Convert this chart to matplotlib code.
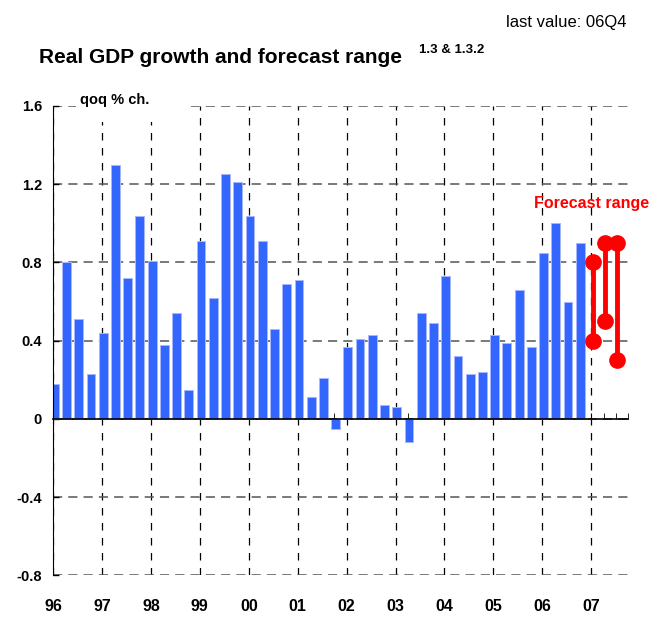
import matplotlib
matplotlib.use("Agg")
from matplotlib import pyplot as plt
from matplotlib.patches import Rectangle

plt.rcParams['font.family'] = ['Liberation Sans', 'DejaVu Sans']

# quarterly real GDP growth, qoq % ch., 96Q1 .. 06Q4
gdp = [0.18, 0.80, 0.51, 0.23,
       0.44, 1.30, 0.72, 1.04,
       0.81, 0.38, 0.54, 0.15,
       0.91, 0.62, 1.25, 1.21,
       1.04, 0.91, 0.46, 0.69,
       0.71, 0.11, 0.21, -0.05,
       0.37, 0.41, 0.43, 0.07,
       0.06, -0.12, 0.54, 0.49,
       0.73, 0.32, 0.23, 0.24,
       0.43, 0.39, 0.66, 0.37,
       0.85, 1.00, 0.60, 0.90]
years = ['96', '97', '98', '99', '00', '01', '02', '03', '04', '05', '06', '07']
# forecast range for 07Q1..07Q3
fc_low = [0.4, 0.5, 0.3]
fc_high = [0.8, 0.9, 0.9]

fig = plt.figure(figsize=(6.67, 6.22), dpi=100)
ax = fig.add_axes([0.0795, 0.0748, 0.862, 0.7548])

xq = [i + 0.1 for i in range(len(gdp))]
ax.bar(xq, gdp, width=0.72, color='#3366ff', edgecolor='#a8b8ff', linewidth=0.7, zorder=2)

xf = [len(gdp) + 0.1 + i for i in range(len(fc_low))]
for x, lo, hi in zip(xf, fc_low, fc_high):
    ax.plot([x, x], [lo, hi], color='red', lw=3.5, marker='o', ms=11, zorder=5)
ax.text(44.0, 1.10, 'Forecast range', color='red', fontsize=11.5, fontweight='bold',
        ha='center', va='center')

ax.set_xlim(0, 47)
ax.set_ylim(-0.8, 1.6)
ax.set_yticks([-0.8, -0.4, 0, 0.4, 0.8, 1.2, 1.6])
ax.set_yticklabels(['-0.8', '-0.4', '0', '0.4', '0.8', '1.2', '1.6'],
                   fontsize=10.5, fontweight='bold')
ax.tick_params(axis='y', direction='in', length=4, width=1, pad=8)

# x axis line sits on zero, with quarter ticks
ax.spines['bottom'].set_position(('data', 0))
ax.spines['top'].set_visible(False)
ax.spines['right'].set_visible(False)
ax.spines['bottom'].set_linewidth(1.2)
ax.spines['bottom'].set_zorder(4)
ax.set_xticks([4 * k for k in range(len(years))])
ax.set_xticks(range(0, 48), minor=True)
ax.tick_params(axis='x', which='both', direction='in', length=4, labelbottom=False)

sec = ax.secondary_xaxis(0)
sec.set_xticks([4 * k for k in range(len(years))])
sec.set_xticklabels(years, fontsize=11.5, fontweight='bold')
sec.tick_params(length=0, pad=17)
sec.spines['bottom'].set_visible(False)

ax.set_axisbelow(True)
ax.grid(axis='y', color='#555555', linestyle=(0, (6, 4)), linewidth=1.1)
ax.grid(axis='x', color='black', linestyle=(0, (6, 6)), linewidth=0.9)

ax.add_patch(Rectangle((1.9, 1.52), 9.4, 0.2, facecolor='white', edgecolor='none',
                       zorder=1.5, clip_on=False))
ax.text(2.2, 1.63, 'qoq % ch.', fontsize=10.5, fontweight='bold', va='center', ha='left', zorder=6)

fig.text(0.058, 0.907, 'Real GDP growth and forecast range', fontsize=15,
         fontweight='bold', va='center', ha='left')
fig.text(0.628, 0.919, '1.3 & 1.3.2', fontsize=9.5, fontweight='bold', va='center', ha='left')
fig.text(0.940, 0.964, 'last value: 06Q4', fontsize=12, va='center', ha='right')

fig.savefig('out.png', dpi=100)
